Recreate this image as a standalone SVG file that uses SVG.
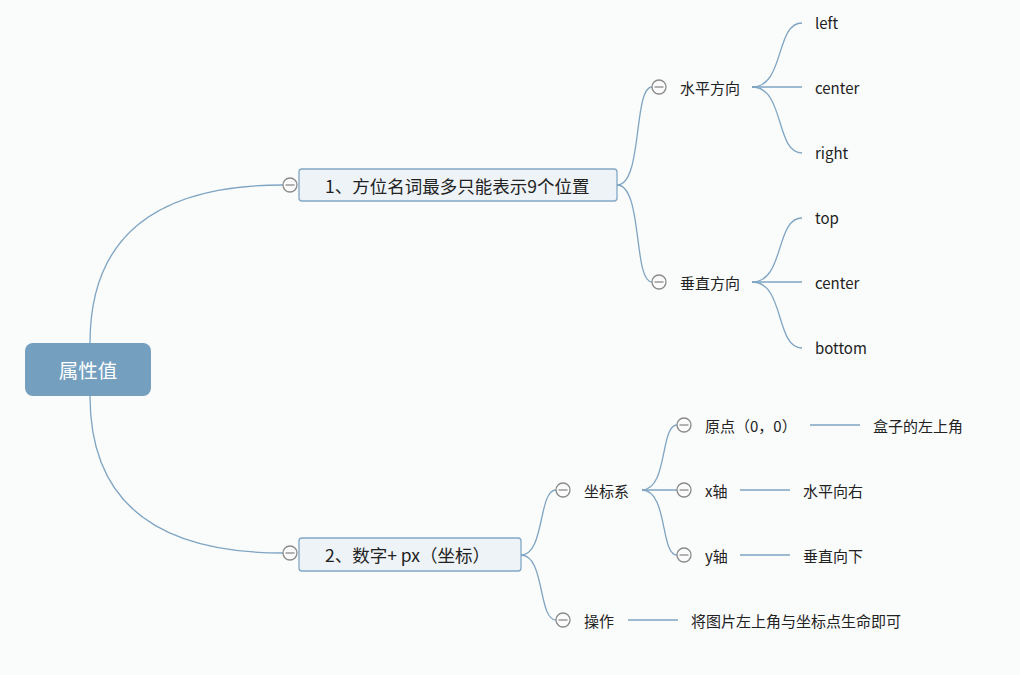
<svg xmlns="http://www.w3.org/2000/svg" width="1020" height="675" viewBox="0 0 1020 675">
<defs>
<style>
.bg{fill:#fafbfb}
.ln{fill:none;stroke:#7fa5c3;stroke-width:1.3}
.t{font-family:"Microsoft YaHei","Noto Sans CJK SC","Noto Sans",sans-serif;font-size:15px;fill:#222;dominant-baseline:central}
.box{fill:#eef3f7;stroke:#82a8c6;stroke-width:1.3}
.bt{font-family:"Microsoft YaHei","Noto Sans CJK SC","Noto Sans",sans-serif;font-size:17.5px;fill:#222;dominant-baseline:central}
.c{fill:#fbfbfb;stroke:#8a8a8a;stroke-width:1.3}
.cl{stroke:#8a8a8a;stroke-width:1.3}
</style>
<g id="minus">
<circle class="c" cx="0" cy="0" r="7"/>
<line class="cl" x1="-4.5" y1="0" x2="4.5" y2="0"/>
</g>
</defs>
<rect class="bg" x="0" y="0" width="1020" height="675"/>
<g id="connectors">
<path class="ln" d="M90,343 Q90,185 283,185"/>
<path class="ln" d="M90,396 Q90,553 283,553"/>
<path class="ln" d="M617,185 C643,185 633,87 652,87"/>
<path class="ln" d="M617,185 C643,185 633,282 652,282"/>
<path class="ln" d="M752,87 C785,87 775,23 802,23"/>
<path class="ln" d="M752,87 L802,87"/>
<path class="ln" d="M752,87 C785,87 775,153 802,153"/>
<path class="ln" d="M752,282 C785,282 775,218 802,218"/>
<path class="ln" d="M752,282 L802,282"/>
<path class="ln" d="M752,282 C785,282 775,348 802,348"/>
<path class="ln" d="M521,555 C545,555 538,490 556,490"/>
<path class="ln" d="M521,555 C545,555 538,620 556,620"/>
<path class="ln" d="M642,490 C668,490 660,425 677,425"/>
<path class="ln" d="M642,490 L677,490"/>
<path class="ln" d="M642,490 C668,490 660,555 677,555"/>
<path class="ln" d="M810,425 L860,425"/>
<path class="ln" d="M740,490 L790,490"/>
<path class="ln" d="M740,555 L790,555"/>
<path class="ln" d="M628,620 L678,620"/>
</g>
<g id="root">
<rect x="25" y="343" width="126" height="53" rx="8" fill="#749fbf"/>
<text x="88" y="369.5" text-anchor="middle" font-family="Microsoft YaHei,Noto Sans CJK SC,sans-serif" font-size="19.5" fill="#fff" dominant-baseline="central">属性值</text>
</g>
<g id="n1">
<rect class="box" x="299" y="169" width="318" height="32" rx="3"/>
<text class="bt" x="325" y="185">1、方位名词最多只能表示9个位置</text>
<use href="#minus" x="290" y="185"/>
</g>
<g id="n2">
<rect class="box" x="299" y="538" width="222" height="33" rx="3"/>
<text class="bt" x="325" y="554">2、数字+ px（坐标）</text>
<use href="#minus" x="290" y="553"/>
</g>
<g id="h"><use href="#minus" x="659" y="87"/><text class="t" x="680" y="87">水平方向</text></g>
<g id="v"><use href="#minus" x="659" y="282"/><text class="t" x="680" y="282">垂直方向</text></g>
<g id="left"><text class="t" x="815" y="22">left</text></g>
<g id="center1"><text class="t" x="815" y="87">center</text></g>
<g id="right"><text class="t" x="815" y="152">right</text></g>
<g id="top"><text class="t" x="815" y="217">top</text></g>
<g id="center2"><text class="t" x="815" y="282">center</text></g>
<g id="bottom"><text class="t" x="815" y="347">bottom</text></g>
<g id="zbx"><use href="#minus" x="563" y="490"/><text class="t" x="584" y="490">坐标系</text></g>
<g id="cz"><use href="#minus" x="563" y="620"/><text class="t" x="584" y="620">操作</text></g>
<g id="yd"><use href="#minus" x="684" y="425"/><text class="t" x="705" y="425">原点（0，0）</text></g>
<g id="xz"><use href="#minus" x="684" y="490"/><text class="t" x="705" y="490">x轴</text></g>
<g id="yz"><use href="#minus" x="684" y="555"/><text class="t" x="705" y="555">y轴</text></g>
<g id="hz"><text class="t" x="873" y="425">盒子的左上角</text></g>
<g id="spxy"><text class="t" x="803" y="490">水平向右</text></g>
<g id="czxx"><text class="t" x="803" y="555">垂直向下</text></g>
<g id="jtp"><text class="t" x="691" y="620">将图片左上角与坐标点生命即可</text></g>
</svg>
